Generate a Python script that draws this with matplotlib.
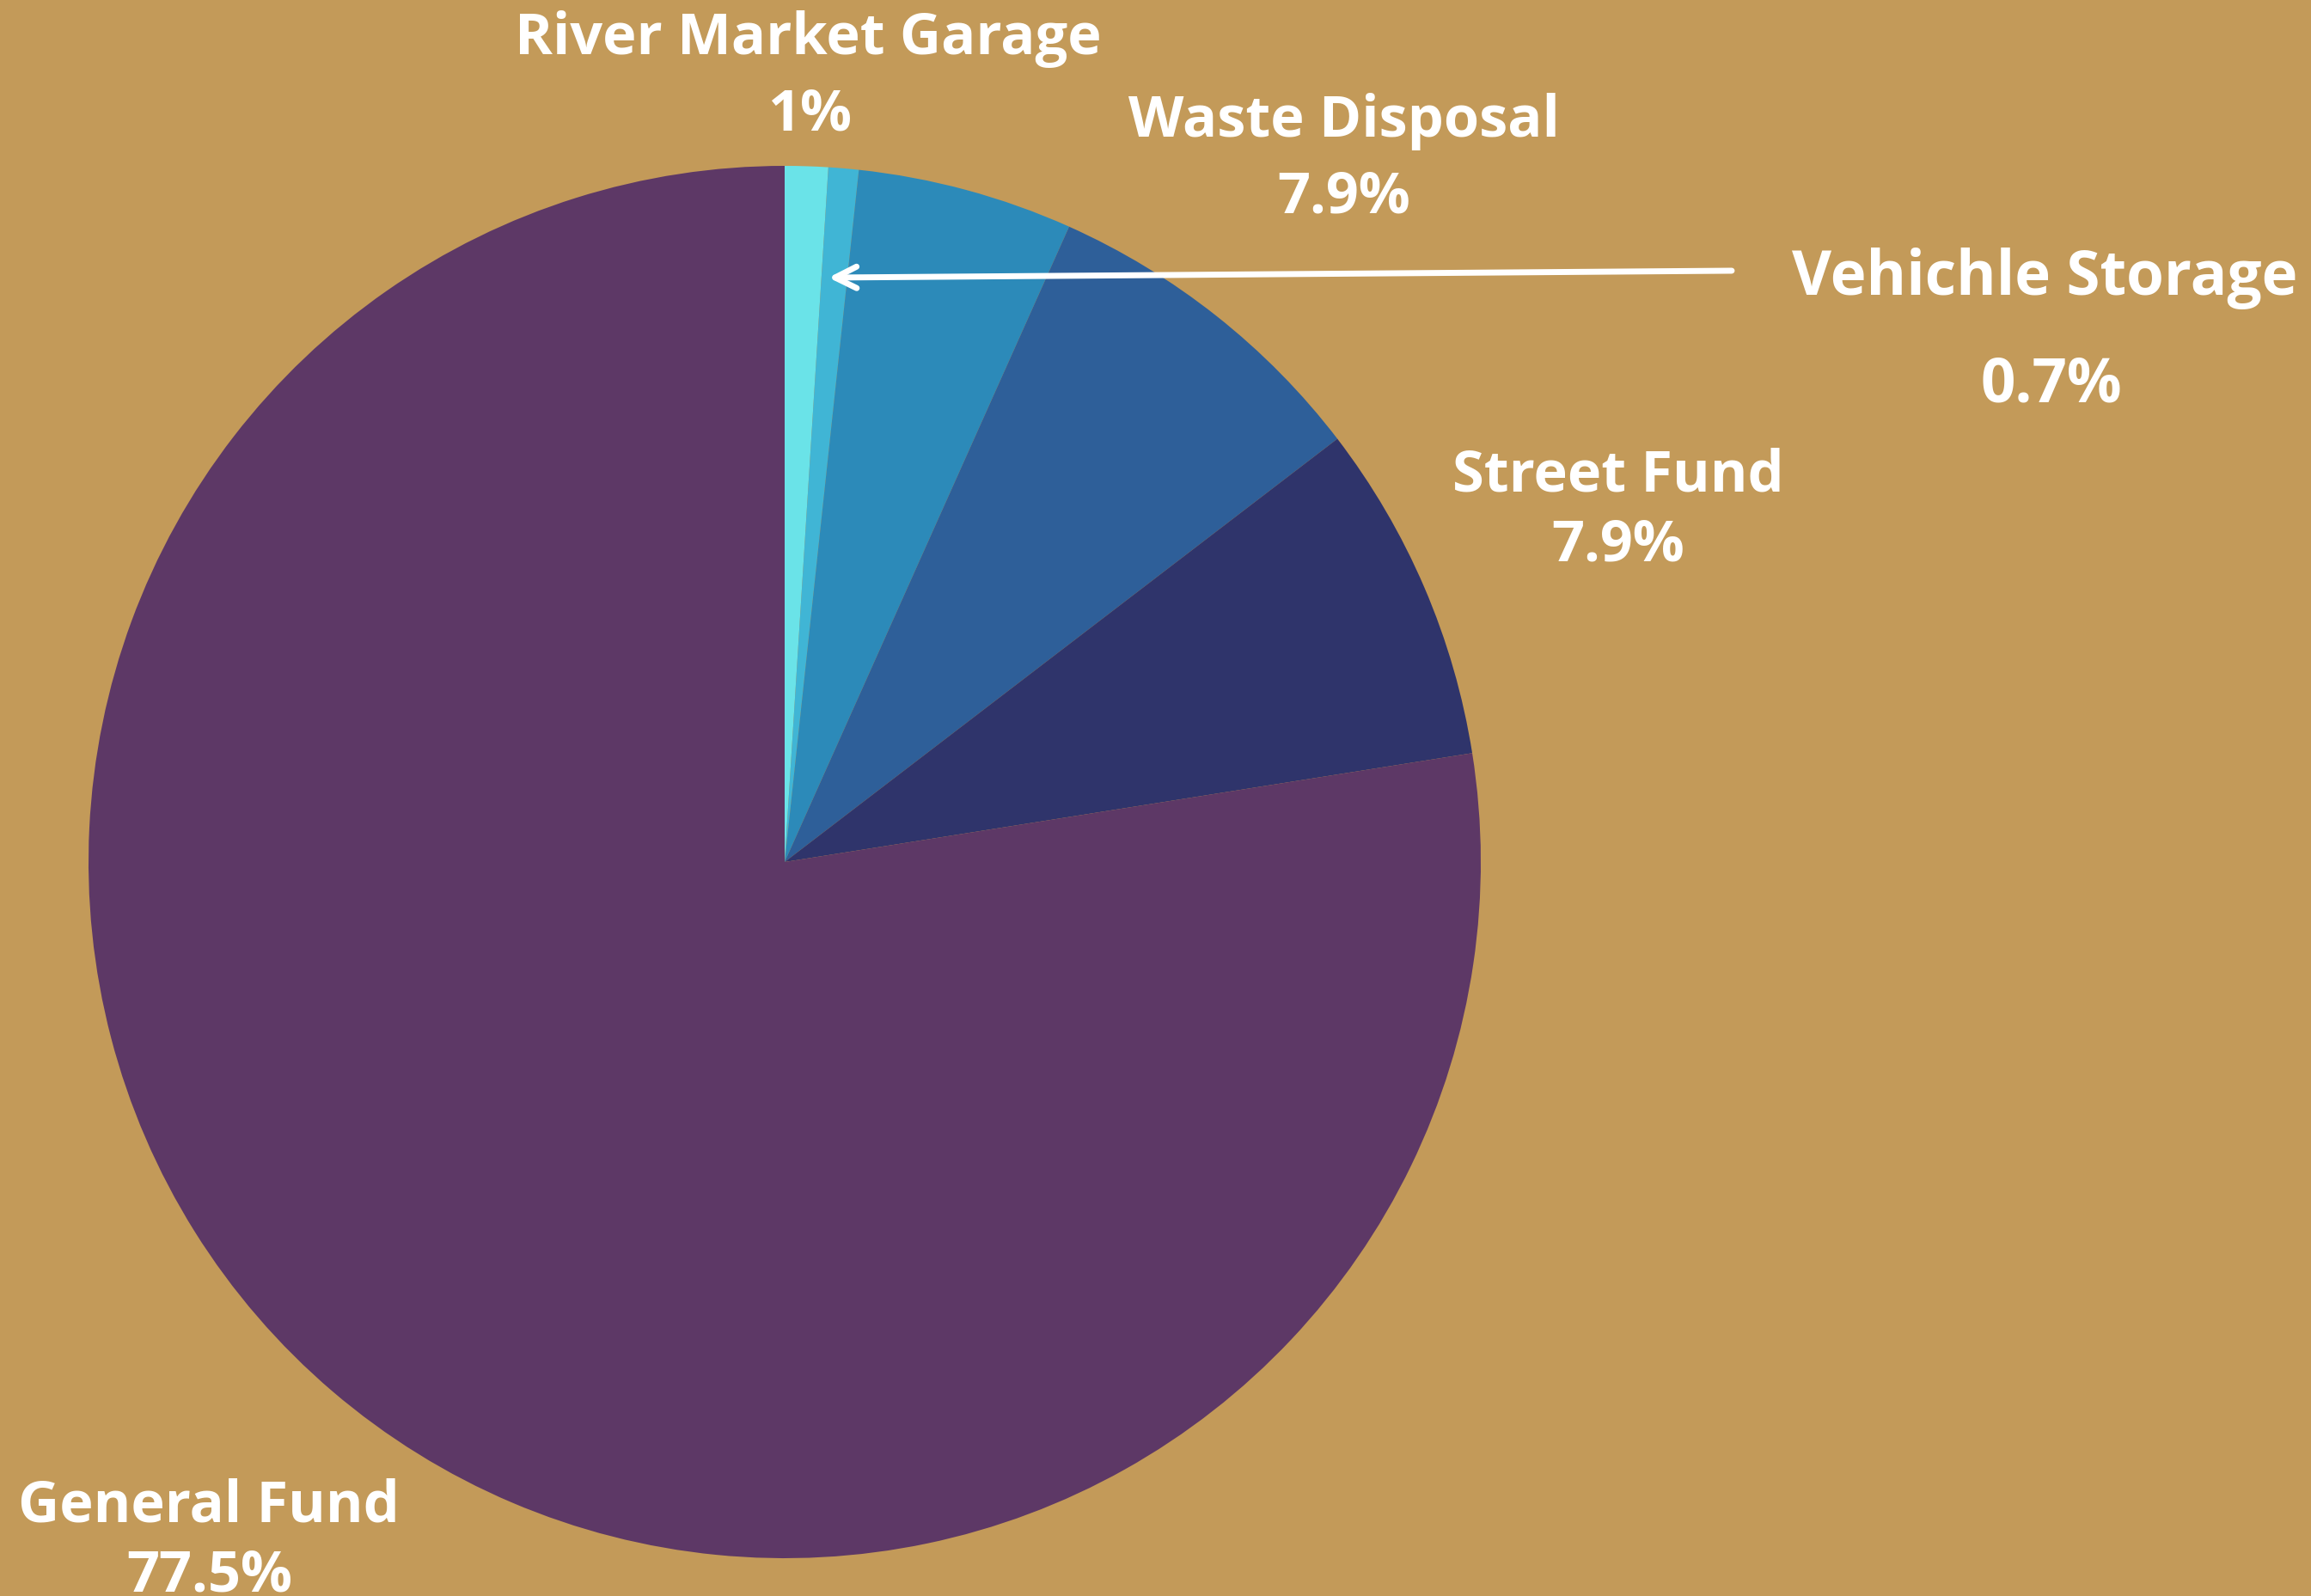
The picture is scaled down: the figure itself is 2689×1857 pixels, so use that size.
import matplotlib.pyplot as plt

# slices, clockwise from 12 o'clock
funds = ['River Market Garage', 'Vehichle Storage', '', 'Waste Disposal', 'Street Fund', 'General Fund']
shares = [1.0, 0.7, 5.0, 7.9, 7.9, 77.5]
colors = ['#6AE3E8', '#40B5D5', '#2C8AB9', '#2E5F99', '#2F346B', '#5D3866']
bg = '#C39A59'

W, H = 2689, 1858
fig = plt.figure(figsize=(W / 100, H / 100), dpi=100, facecolor=bg)
ax = fig.add_axes([0, 0, 1, 1])
ax.set_facecolor(bg)

ax.pie(shares, colors=colors, startangle=90, counterclock=False,
       center=(913, H - 1004), radius=810, frame=True,
       wedgeprops=dict(linewidth=0))

ax.set_xlim(0, W)
ax.set_ylim(0, H)
ax.set_aspect('equal')
ax.axis('off')

font = dict(family='Open Sans', weight='bold', color='white',
            ha='center', va='center', fontsize=48)

# label positions in image pixels (x, y from top), font size
labels = [
    ('River Market Garage', 940, 45, 48),
    ('1%', 942, 134, 48),
    ('Waste Disposal', 1564, 141, 48),
    ('7.9%', 1564, 230, 48),
    ('Vehichle Storage', 2379, 324, 51),
    ('0.7%', 2387, 449, 51),
    ('Street Fund', 1883, 554, 48),
    ('7.9%', 1883, 635, 48),
    ('General Fund', 243, 1753, 48),
    ('77.5%', 244, 1834, 48),
]
for txt, x, y, fs in labels:
    ax.text(x, H - y, txt, **{**font, 'fontsize': fs})

ax.annotate('', xy=(964, H - 324), xytext=(2015, H - 316),
            arrowprops=dict(arrowstyle='->', color='white', lw=5,
                            mutation_scale=45, shrinkA=0, shrinkB=0))

fig.savefig('out.png', dpi=100, facecolor=bg)
